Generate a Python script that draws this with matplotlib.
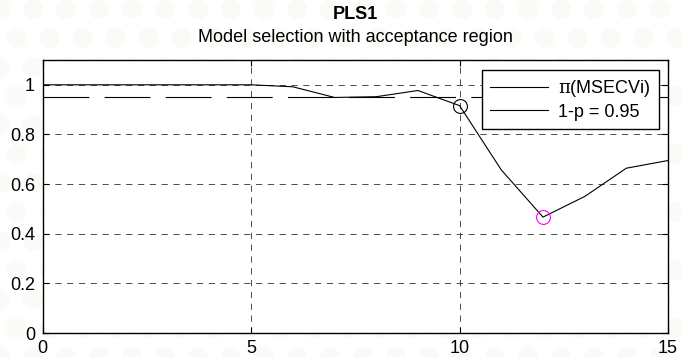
import matplotlib
matplotlib.use("Agg")
import matplotlib.pyplot as plt
from matplotlib.lines import Line2D
from matplotlib.patches import Circle
import numpy as np

plt.rcParams['font.family'] = ['Liberation Sans', 'DejaVu Sans']
plt.rcParams['mathtext.fontset'] = 'custom'
plt.rcParams['mathtext.rm'] = 'DejaVu Serif'
plt.rcParams['lines.scale_dashes'] = False

# nombre de composantes et critère pi(MSECVi)
n_comp = list(range(0, 16))
pi_msecv = [1.0, 1.0, 1.0, 1.0, 1.0, 1.0, 0.992, 0.949, 0.952, 0.977,
            0.916, 0.657, 0.467, 0.55, 0.664, 0.695]
seuil = 0.95          # 1-p
comp_seuil = 10       # premier modèle sous le seuil
comp_min = 12         # minimum du critère
x_ticks = [0, 5, 10, 15]
y_ticks = [0, 0.2, 0.4, 0.6, 0.8, 1]

fig = plt.figure(figsize=(6.81, 3.57), dpi=100)
fig.patch.set_facecolor('white')

# motif de fond très pâle (en pouces pour garder des cercles ronds)
for j, yy in enumerate(np.arange(0.0, 3.8, 0.29)):
    dx = 0.165 if j % 2 else 0.0
    for xx in np.arange(0.0, 7.0, 0.33):
        fig.patches.append(Circle((xx + dx, yy), 0.1, transform=fig.dpi_scale_trans,
                                  facecolor='#fafaf6', edgecolor='none', zorder=-5))

ax = fig.add_axes([0.0627, 0.0672, 0.9183, 0.7648])
ax.set_facecolor('white')

ax.plot(n_comp, pi_msecv, color='black', lw=0.8, zorder=3)
ax.axhline(seuil, color='black', lw=0.8, linestyle=(0, (33, 11)), zorder=3)
ax.plot(comp_seuil, pi_msecv[n_comp.index(comp_seuil)], 'o', ms=10,
        mfc='none', mec='black', mew=0.8, zorder=4)
ax.plot(comp_min, pi_msecv[n_comp.index(comp_min)], 'o', ms=10,
        mfc='none', mec='#ff00ff', mew=0.8, zorder=4)

ax.set_xlim(0, 15)
ax.set_ylim(0, 1.1)
ax.set_xticks(x_ticks)
ax.set_yticks(y_ticks)
ax.set_yticklabels(['0', '0.2', '0.4', '0.6', '0.8', '1'])
ax.grid(True, color='#303030', lw=0.6, linestyle=(0, (4.5, 4)))
ax.tick_params(direction='in', top=True, right=True, length=4, width=0.8,
               labelsize=13, colors='black')
ax.tick_params(axis='y', pad=5.5)
ax.tick_params(axis='x', pad=5)
for s in ax.spines.values():
    s.set_linewidth(1.0)
    s.set_color('black')

handles = [Line2D([], [], color='black', lw=0.8),
           Line2D([], [], color='black', lw=0.8)]
leg = ax.legend(handles, [r'$\mathrm{\pi}$(MSECVi)', '1-p = 0.95'],
                loc='upper right', bbox_to_anchor=(0.9856, 0.963),
                fontsize=13, handlelength=3.2, handletextpad=0.55,
                labelspacing=0.25, borderpad=0.45, borderaxespad=0,
                fancybox=False, framealpha=1, edgecolor='black')
leg.get_frame().set_linewidth(1.0)

fig.text(0.522, 0.958, 'PLS1', ha='center', va='center', fontsize=13, fontweight='bold')
fig.text(0.522, 0.896, 'Model selection with acceptance region', ha='center',
         va='center', fontsize=13)

fig.savefig('out.png', dpi=100)
